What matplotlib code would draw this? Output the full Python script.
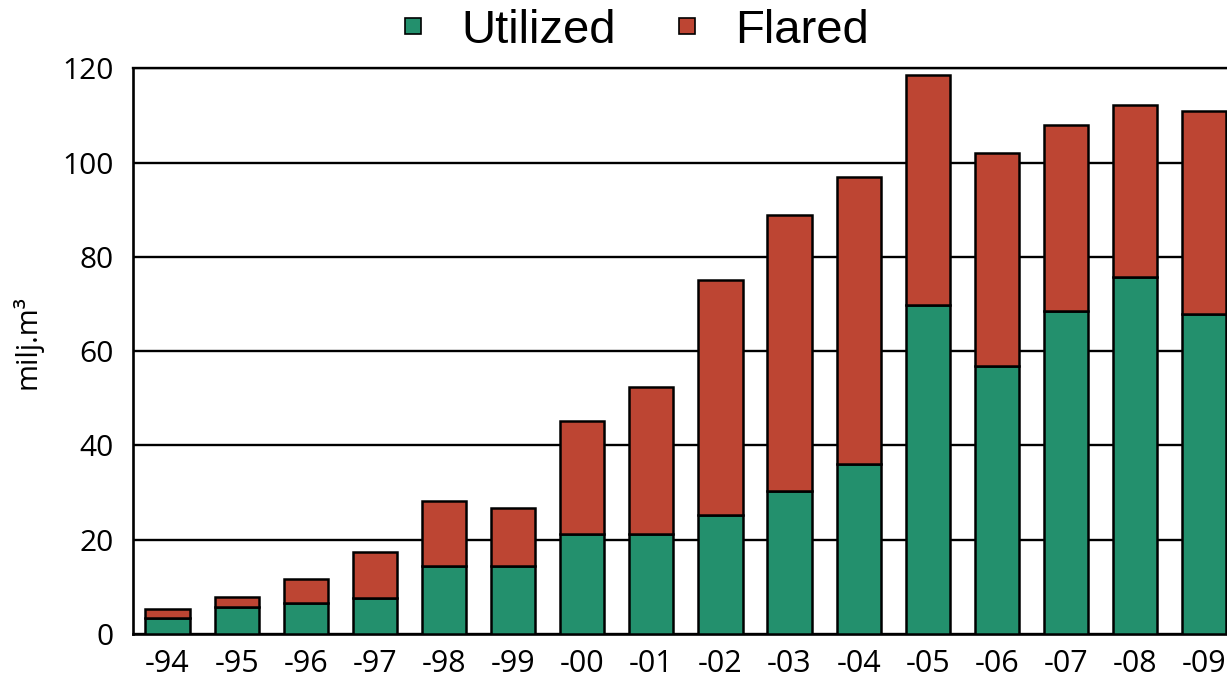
import matplotlib
matplotlib.use("Agg")
import matplotlib.pyplot as plt
from matplotlib.lines import Line2D

years = ["-94", "-95", "-96", "-97", "-98", "-99", "-00", "-01",
         "-02", "-03", "-04", "-05", "-06", "-07", "-08", "-09"]
utilized = [3.3, 5.8, 6.5, 7.6, 14.4, 14.4, 21.3, 21.3,
            25.3, 30.4, 36.0, 69.7, 56.9, 68.6, 75.8, 67.8]
total = [5.4, 7.9, 11.7, 17.5, 28.3, 26.7, 45.1, 52.3,
         75.0, 88.8, 96.9, 118.5, 102.1, 108.0, 112.3, 111.0]
flared = [t - u for t, u in zip(total, utilized)]

green = "#23906d"
red = "#bd4533"

fig = plt.figure(figsize=(12.27, 6.84), dpi=100)
ax = fig.add_axes([0.1084, 0.0731, 0.8916, 0.8269])

x = range(len(years))
ax.bar(x, utilized, width=0.64, color=green, edgecolor="black", linewidth=1.8, zorder=3)
ax.bar(x, flared, bottom=utilized, width=0.64, color=red, edgecolor="black", linewidth=1.8, zorder=3)

ax.set_xlim(-0.5, 15.33)
ax.set_ylim(0, 120)
ax.set_yticks([0, 20, 40, 60, 80, 100, 120])
ax.set_xticks(list(x))
ax.set_xticklabels(years)
ax.yaxis.grid(True, color="black", linewidth=1.7, zorder=0)
ax.set_axisbelow(True)
ax.spines["right"].set_visible(False)
ax.spines["left"].set_linewidth(1.9)
ax.spines["bottom"].set_linewidth(1.9)
ax.spines["top"].set_linewidth(1.7)
ax.tick_params(axis="both", length=0)
ax.tick_params(axis="y", pad=14, labelsize=21.5)
ax.tick_params(axis="x", pad=11, labelsize=22)
for lab in ax.get_xticklabels() + ax.get_yticklabels():
    lab.set_family("Open Sans")

fig.text(0.022, 0.5, "milj.m³", rotation=90, va="center", ha="center",
         fontsize=21, family="Open Sans")

handles = [Line2D([], [], marker="s", linestyle="None", markersize=11,
                  markerfacecolor=green, markeredgecolor="black", markeredgewidth=1.2),
           Line2D([], [], marker="s", linestyle="None", markersize=11,
                  markerfacecolor=red, markeredgecolor="black", markeredgewidth=1.2)]
fig.legend(handles, ["Utilized", "Flared"], loc="center", bbox_to_anchor=(0.5145, 0.955),
           ncol=2, frameon=False, prop={"family": "Liberation Sans", "size": 34},
           handlelength=0.8, handletextpad=0.62, columnspacing=1.1)

fig.savefig("out.png", dpi=100)
